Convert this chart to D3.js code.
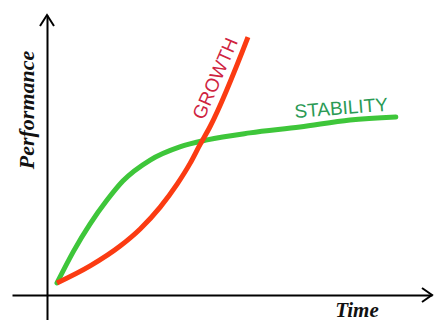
<!DOCTYPE html>
<html><head><meta charset="utf-8">
<script src="https://cdn.jsdelivr.net/npm/d3@7"></script>
<style>html,body{margin:0;padding:0;background:#fff;}svg{display:block;}</style>
</head><body>
<svg id="c" width="434" height="320"></svg>
<script>
// Data (time, performance) in arbitrary 0-100 units
const growthTime = [2.6, 11.2, 19.0, 24.2, 29.4, 33.8, 37.2, 39.7, 42.3, 52.2];
const growthPerf = [4.3, 10.4, 17.5, 23.6, 31.4, 39.6, 47.1, 53.6, 60.0, 92.1];
const stabilityTime = [2.6, 6.8, 11.2, 15.6, 19.7, 26.8, 34.5, 41.6, 52.7, 65.7, 78.7, 90.6];
const stabilityPerf = [4.3, 15.4, 25.4, 33.9, 40.7, 48.2, 52.9, 55.4, 57.9, 60.0, 62.5, 63.6];
const seriesNames = ["GROWTH", "STABILITY"];
const axisTitles = ["Time", "Performance"];

const svg = d3.select("#c");
const x = d3.scaleLinear().domain([0, 100]).range([47, 432]);
const y = d3.scaleLinear().domain([0, 100]).range([295, 15]);

// axes (no ticks), extended past origin
const xAxisScale = x.copy().domain([x.invert(12), 100]).range([12, 432]);
const yAxisScale = y.copy().domain([y.invert(320), 100]).range([320, 15]);
svg.append("g").attr("transform", `translate(0,${y(0)})`)
  .call(d3.axisBottom(xAxisScale).tickValues([]).tickSizeOuter(0))
  .select(".domain").attr("stroke", "#000").attr("stroke-width", 2);
svg.append("g").attr("transform", `translate(${x(0)},0)`)
  .call(d3.axisLeft(yAxisScale).tickValues([]).tickSizeOuter(0))
  .select(".domain").attr("stroke", "#000").attr("stroke-width", 2);

// arrow heads
const ax = x(100), ay = y(0);
svg.append("path").attr("d", `M${ax-10},${ay-7}L${ax},${ay}L${ax-10},${ay+7}`)
  .attr("fill", "none").attr("stroke", "#000").attr("stroke-width", 2);
const bx = x(0), by = y(100);
svg.append("path").attr("d", `M${bx-7},${by+11}L${bx},${by}L${bx+7},${by+11}`)
  .attr("fill", "none").attr("stroke", "#000").attr("stroke-width", 2);

const line = d3.line().x(d => x(d[0])).y(d => y(d[1])).curve(d3.curveMonotoneX);
const stab = stabilityTime.map((t, i) => [t, stabilityPerf[i]]);
const grow = growthTime.map((t, i) => [t, growthPerf[i]]);

svg.append("path").attr("d", line(stab)).attr("fill", "none")
  .attr("stroke", "#3ec63a").attr("stroke-width", 5).attr("stroke-linecap", "round");
svg.append("path").attr("d", line(grow)).attr("fill", "none")
  .attr("stroke", "#fb3b12").attr("stroke-width", 5).attr("stroke-linecap", "butt");

// series labels
svg.append("text").text(seriesNames[0])
  .attr("transform", `translate(${x(45.2)},${y(76.4)}) rotate(-66.5)`)
  .attr("text-anchor", "middle")
  .attr("font-family", "Liberation Sans, Arial, sans-serif").attr("font-size", 19)
  .attr("fill", "#cf2340");
svg.append("text").text(seriesNames[1])
  .attr("transform", `translate(295,118) rotate(-4.5)`)
  .attr("text-anchor", "start")
  .attr("font-family", "Liberation Sans, Arial, sans-serif").attr("font-size", 19)
  .attr("fill", "#2a9a55");

// axis titles
svg.append("text").text(axisTitles[0])
  .attr("x", 357).attr("y", 317).attr("text-anchor", "middle")
  .attr("font-family", "Liberation Serif, Times New Roman, serif")
  .attr("font-style", "italic").attr("font-weight", "bold").attr("font-size", 21)
  .attr("fill", "#111");
svg.append("text").text(axisTitles[1])
  .attr("transform", "translate(34,110) rotate(-90)").attr("text-anchor", "middle")
  .attr("font-family", "Liberation Serif, Times New Roman, serif")
  .attr("font-style", "italic").attr("font-weight", "bold").attr("font-size", 22)
  .attr("fill", "#111");
</script>
</body></html>
